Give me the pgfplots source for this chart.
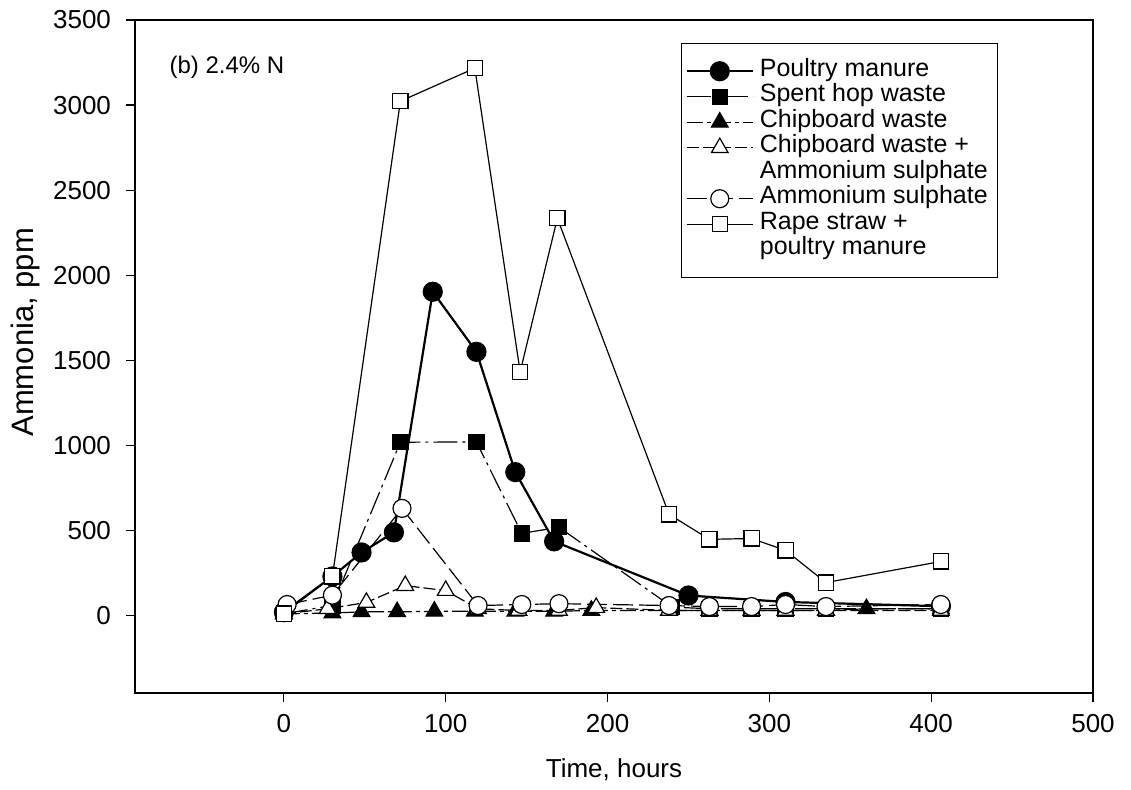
\documentclass[border=0pt]{standalone}
\usepackage{pgfplots}
\pgfplotsset{compat=1.18}
\usepackage{fontspec}
\setmainfont{Liberation Sans}
\begin{document}
\begin{tikzpicture}
\path[use as bounding box] (-67.5pt,-48pt) rectangle (498pt,346.5pt);
\begin{axis}[
 at={(0,0)}, anchor=south west,
 scale only axis, width=479pt, height=336.5pt,
 xmin=-92, xmax=500, ymin=-455, ymax=3500,
 xtick={0,100,...,500}, ytick={0,500,...,3500},
 tick pos=left, tick align=outside, major tick length=4.5pt,
 font=\fontsize{13}{15}\selectfont,
 /pgf/number format/assume math mode=true,
 /pgf/number format/1000 sep={},
 every tick/.style={black, line width=0.6pt},
 axis line style={line width=0.7pt},
 yticklabel style={xshift=-4pt},
 xticklabel style={yshift=-2.5pt},
 xlabel={Time, hours}, ylabel={Ammonia, ppm},
 every axis x label/.style={at={(axis description cs:0.5,0)}, anchor=center, yshift=-38.5pt, font=\fontsize{13}{15}\selectfont},
 every axis y label/.style={at={(axis description cs:-0.1148,0.536)}, anchor=center, rotate=90, font=\fontsize{15.5}{17}\selectfont},
 legend style={at={(axis description cs:0.57,0.966)}, anchor=north west, draw=black, line width=0.6pt,
   inner xsep=2pt, inner ysep=7.5pt, row sep=0pt, font=\fontsize{12.5}{14}\selectfont,
   nodes={text height=9pt, text depth=3.75pt, inner ysep=0pt, inner xsep=3pt}},
 legend cell align=left,
 legend image code/.code={\draw[mark repeat=2,mark phase=2] plot coordinates {(0pt,0pt) (16.5pt,0pt) (33pt,0pt)};},
]
\addplot[black, line width=1.1pt, mark=*, mark size=4.5pt, mark options={solid}] coordinates {
 (0,20) (30,230) (48,371) (68,489) (92,1903) (119,1550) (143,843) (167,436) (250,118) (310,80) (406,55)};
\addlegendentry{Poultry manure}
\addplot[black, line width=0.6pt, dash pattern=on 12pt off 2.5pt on 1.5pt off 2.5pt, mark=square*, mark size=3.8pt, mark options={solid}] coordinates {
 (0,10) (30,60) (72,1019) (119,1020) (147,483) (170,519) (240,50) (263,40) (289,40) (310,40) (335,40) (406,40)};
\addlegendentry{Spent hop waste}
\addplot[black, line width=0.6pt, dash pattern=on 8pt off 2pt on 2pt off 2pt, mark=triangle*, mark size=4.8pt, mark options={solid}] coordinates {
 (0,10) (30,15) (48,22) (70,22) (93,25) (118,25) (143,25) (167,25) (190,30) (238,30) (263,30) (289,30) (310,30) (335,30) (360,40) (406,40)};
\addlegendentry{Chipboard waste}
\addplot[black, line width=0.6pt, dash pattern=on 6pt off 2pt, mark=triangle*, mark size=4.8pt, mark options={solid, fill=white}] coordinates {
 (0,10) (27,40) (51,77) (75,176) (100,147) (120,40) (145,30) (170,30) (193,47) (238,30) (263,30) (289,30) (310,30) (335,30) (406,30)};
\addlegendentry{Chipboard waste +}
\addlegendimage{empty legend}
\addlegendentry{Ammonium sulphate}
\addplot[black, line width=0.6pt, dash pattern=on 10pt off 3pt, mark=*, mark size=4.5pt, mark options={solid, fill=white}] coordinates {
 (2,65) (30,120) (73,630) (120,59) (147,65) (170,70) (238,59) (263,53) (289,53) (310,65) (335,53) (406,65)};
\addlegendentry{Ammonium sulphate}
\addplot[black, line width=0.6pt, mark=square*, mark size=3.8pt, mark options={solid, fill=white}] coordinates {
 (0,12) (30,230) (72,3023) (118,3217) (146,1432) (169,2335) (238,595) (263,448) (289,453) (310,383) (335,194) (406,318)};
\addlegendentry{Rape straw +}
\addlegendimage{empty legend}
\addlegendentry{poultry manure}
\node[anchor=west, font=\fontsize{12}{14}\selectfont] at (axis cs:-75,3225) {(b) 2.4\% N};
\end{axis}
\end{tikzpicture}
\end{document}
